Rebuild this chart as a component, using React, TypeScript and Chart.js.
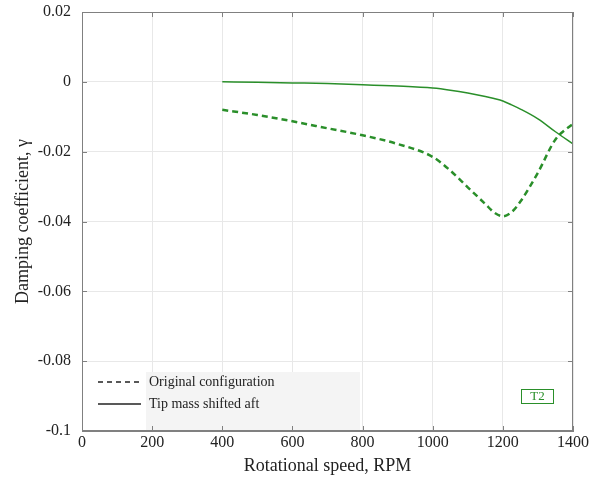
import React, { useEffect, useRef } from "react";
import { Chart, registerables } from "chart.js";

Chart.register(...registerables);

const rpm = [400, 500, 600, 700, 800, 900, 1000, 1050, 1100, 1150, 1175, 1200, 1225, 1250, 1300, 1350, 1400];
const originalConfig = [-0.008, -0.0095, -0.0113, -0.0133, -0.0153, -0.0178, -0.0215, -0.0254, -0.0302, -0.035, -0.0374, -0.0385, -0.0373, -0.0343, -0.026, -0.0165, -0.012];
const tipMassAft = [0, -0.0001, -0.0003, -0.0005, -0.0008, -0.0012, -0.0018, -0.0024, -0.0032, -0.0042, -0.0048, -0.0055, -0.0066, -0.0078, -0.0106, -0.0143, -0.0178];
const xTicks = [0, 200, 400, 600, 800, 1000, 1200, 1400];
const yTicks = [0.02, 0, -0.02, -0.04, -0.06, -0.08, -0.1];
const legendLabels = ["Original configuration", "Tip mass shifted aft"];
const annotationText = "T2";

const GREEN = "#2a8f2a";
const SERIF = "'Liberation Serif', 'DejaVu Serif', serif";

const decorPlugin = {
  id: "decor",
  beforeDatasetsDraw(chart: any) {
    const { ctx, chartArea: a } = chart;
    ctx.save();
    const lx0 = a.left + 1;
    const ly0 = a.bottom - 59;
    ctx.fillStyle = "#ffffff";
    ctx.fillRect(lx0, ly0, 277, 58);
    ctx.fillStyle = "#f4f4f4";
    ctx.fillRect(a.left + 64, ly0, 214, 58);
    ctx.restore();
  },
  afterDraw(chart: any) {
    const { ctx, chartArea: a, scales } = chart;
    ctx.save();
    ctx.strokeStyle = "#808080";
    ctx.lineWidth = 1;
    const tl = 5;
    xTicks.forEach((v) => {
      const px = Math.round(scales.x.getPixelForValue(v)) + 0.5;
      ctx.beginPath();
      ctx.moveTo(px, a.bottom);
      ctx.lineTo(px, a.bottom - tl);
      ctx.moveTo(px, a.top);
      ctx.lineTo(px, a.top + tl);
      ctx.stroke();
    });
    yTicks.forEach((v) => {
      const py = Math.round(scales.y.getPixelForValue(v)) + 0.5;
      ctx.beginPath();
      ctx.moveTo(a.left, py);
      ctx.lineTo(a.left + tl, py);
      ctx.moveTo(a.right, py);
      ctx.lineTo(a.right - tl, py);
      ctx.stroke();
    });
    const lx = a.left + 16;
    const y1 = a.bottom - 49;
    const y2 = a.bottom - 27;
    ctx.strokeStyle = "#222";
    ctx.lineWidth = 1.3;
    ctx.setLineDash([5, 4]);
    ctx.beginPath();
    ctx.moveTo(lx, y1);
    ctx.lineTo(lx + 43, y1);
    ctx.stroke();
    ctx.setLineDash([]);
    ctx.beginPath();
    ctx.moveTo(lx, y2);
    ctx.lineTo(lx + 43, y2);
    ctx.stroke();
    ctx.fillStyle = "#222";
    ctx.font = `14px ${SERIF}`;
    ctx.textBaseline = "middle";
    ctx.textAlign = "left";
    ctx.fillText(legendLabels[0], lx + 51, y1);
    ctx.fillText(legendLabels[1], lx + 51, y2);
    const bx = a.right - 52;
    const by = a.bottom - 42;
    ctx.strokeStyle = GREEN;
    ctx.lineWidth = 1;
    ctx.strokeRect(bx + 0.5, by + 0.5, 32, 14);
    ctx.fillStyle = GREEN;
    ctx.font = `13px ${SERIF}`;
    ctx.textAlign = "center";
    ctx.fillText(annotationText, bx + 16.5, by + 8);
    ctx.restore();
  },
};

export default function App() {
  const ref = useRef<HTMLCanvasElement>(null);
  useEffect(() => {
    document.body.style.margin = "0";
    const chart = new Chart(ref.current!, {
      type: "line",
      data: {
        datasets: [
          {
            label: legendLabels[0],
            data: rpm.map((x, i) => ({ x, y: originalConfig[i] })),
            borderColor: GREEN,
            borderWidth: 2.5,
            borderDash: [6, 4],
            pointRadius: 0,
            cubicInterpolationMode: "monotone",
            fill: false,
          },
          {
            label: legendLabels[1],
            data: rpm.map((x, i) => ({ x, y: tipMassAft[i] })),
            borderColor: GREEN,
            borderWidth: 1.5,
            pointRadius: 0,
            cubicInterpolationMode: "monotone",
            fill: false,
          },
        ],
      },
      options: {
        animation: false,
        responsive: false,
        maintainAspectRatio: false,
        layout: { padding: { left: 0, top: 12, right: 17, bottom: 0 } },
        plugins: { legend: { display: false }, tooltip: { enabled: false } },
        scales: {
          x: {
            type: "linear",
            min: 0,
            max: 1400,
            afterBuildTicks: (s: any) => {
              s.ticks = xTicks.map((v) => ({ value: v }));
            },
            afterFit: (s: any) => {
              s.height = 47;
            },
            grid: { color: "#e8e8e8", drawTicks: false },
            border: { display: true, color: "#808080", width: 1 },
            ticks: {
              color: "#222",
              font: { family: SERIF, size: 16 },
              padding: 2,
              maxRotation: 0,
              callback: (v: any) => String(v),
            },
            title: {
              display: true,
              text: "Rotational speed, RPM",
              color: "#222",
              font: { family: SERIF, size: 18 },
              padding: { top: 0, bottom: 1 },
            },
          },
          y: {
            type: "linear",
            min: -0.1,
            max: 0.02,
            afterBuildTicks: (s: any) => {
              s.ticks = yTicks.map((v) => ({ value: v }));
            },
            afterFit: (s: any) => {
              s.width = 82;
              s.paddingTop = 0;
              s.paddingBottom = 0;
            },
            grid: { color: "#e8e8e8", drawTicks: false },
            border: { display: true, color: "#808080", width: 1 },
            ticks: {
              color: "#222",
              font: { family: SERIF, size: 16 },
              padding: 11,
              callback: (v: any) => {
                const n = Math.round(Number(v) * 1000) / 1000;
                return n === 0 ? "0" : String(n);
              },
            },
            title: {
              display: true,
              text: "Damping coefficient, γ",
              color: "#222",
              font: { family: SERIF, size: 18 },
              padding: { top: 12, bottom: 0 },
            },
          },
        },
      },
      plugins: [
        decorPlugin,
        {
          id: "frame",
          afterDatasetsDraw(chart: any) {
            const { ctx, chartArea: a } = chart;
            ctx.save();
            ctx.strokeStyle = "#808080";
            ctx.lineWidth = 1;
            ctx.strokeRect(Math.round(a.left) + 0.5, Math.round(a.top) + 0.5, Math.round(a.right - a.left) - 1, Math.round(a.bottom - a.top) - 1);
            ctx.restore();
          },
        },
      ],
    } as any);
    return () => chart.destroy();
  }, []);
  return (
    <div style={{ position: "fixed", left: 0, top: 0, width: 591, height: 478, background: "#fff" }}>
      <canvas ref={ref} width={591} height={478} style={{ width: 591, height: 478 }} />
    </div>
  );
}
